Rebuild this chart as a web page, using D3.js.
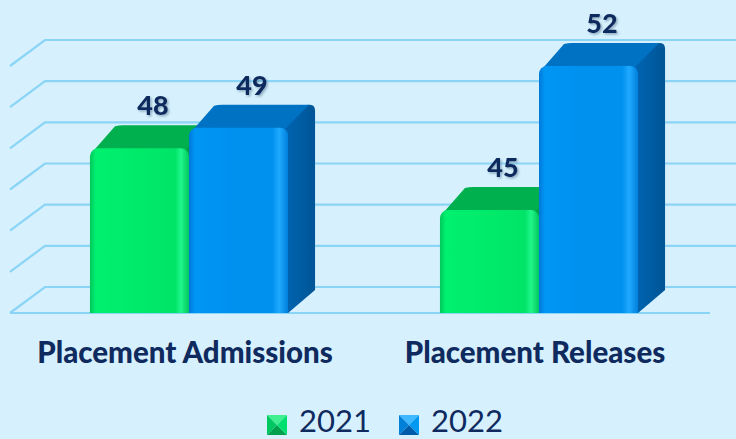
<!DOCTYPE html>
<html>
<head>
<meta charset="utf-8">
<script src="https://cdn.jsdelivr.net/npm/d3@7"></script>
<style>
  body { margin: 0; background: #d6f1fd; }
  svg { display: block; }
</style>
</head>
<body>
<svg id="chart"></svg>
<script>
let width = 736, height = 439;

// data
const categories = ["Placement Admissions", "Placement Releases"];
const seriesNames = ["2021", "2022"];
const values2021 = [48, 45];
const values2022 = [49, 52];
const tickValues = [40, 42, 44, 46, 48, 50, 52];

const series = [values2021, values2022];

let svg = d3.select("#chart")
    .attr("width", width)
    .attr("height", height);

let defs = svg.append("defs");

// front plane scales, back wall is shifted up-right
const wallDx = 35, wallDy = -26;
const barDx = 27, barDy = -23;
const barShift = 4;

let y = d3.scaleLinear().domain([40, 52]).range([313, 66]);
let x0 = d3.scaleBand().domain(categories).range([10, 710])
    .paddingInner(0.434).paddingOuter(0.217);
let x1 = d3.scaleBand().domain(seriesNames).range([0, x0.bandwidth()]);

function hGrad(id, stops) {
    let g = defs.append("linearGradient").attr("id", id)
        .attr("x1", "0%").attr("x2", "100%").attr("y1", "0%").attr("y2", "0%");
    stops.forEach(s => g.append("stop").attr("offset", s[0]).attr("stop-color", s[1]));
}
hGrad("greenFront", [["0%", "#00c85a"], ["6%", "#00f070"], ["50%", "#00ea6a"], ["86%", "#00e468"], ["92%", "#20f68a"], ["100%", "#00c85c"]]);
hGrad("blueFront", [["0%", "#0078d8"], ["6%", "#0096f4"], ["50%", "#0090ee"], ["84%", "#0090ee"], ["91%", "#20aaff"], ["100%", "#0080dc"]]);
hGrad("blueSide", [["0%", "#0066b4"], ["100%", "#005596"]]);
hGrad("greenSide", [["0%", "#00a648"], ["100%", "#008c3c"]]);

let shadow = defs.append("filter").attr("id", "lblShadow")
    .attr("x", "-20%").attr("y", "-20%").attr("width", "140%").attr("height", "140%");
shadow.append("feDropShadow").attr("dx", 1.5).attr("dy", 1.5).attr("stdDeviation", 1)
    .attr("flood-color", "#5a7a9a").attr("flood-opacity", 0.6);

const colors = {
    "2021": { front: "url(#greenFront)", top: "#00b04e", side: "url(#greenSide)" },
    "2022": { front: "url(#blueFront)", top: "#0072c4", side: "url(#blueSide)" }
};

// gridlines (left wall diagonal + back wall)
svg.append("g").attr("class", "grid")
    .selectAll("path")
    .data(tickValues)
    .enter()
    .append("path")
    .attr("d", d => "M10," + y(d) + "L" + (10 + wallDx) + "," + (y(d) + wallDy) + "L" + width + "," + (y(d) + wallDy))
    .attr("fill", "none")
    .attr("stroke", "#8ad4f6")
    .attr("stroke-width", 2.2);

// floor front edge
svg.append("line")
    .attr("x1", 10).attr("x2", 710)
    .attr("y1", y(40)).attr("y2", y(40))
    .attr("stroke", "#8ad4f6").attr("stroke-width", 2.2);

// bars
let barData = [];
categories.forEach((c, i) => {
    seriesNames.forEach((s, j) => {
        barData.push({ cat: c, name: s, value: series[j][i] });
    });
});

let bars = svg.append("g").attr("class", "bars")
    .selectAll("g")
    .data(barData)
    .enter()
    .append("g");

bars.each(function (d) {
    let g = d3.select(this);
    let xa = x0(d.cat) + x1(d.name) + barShift;
    let xb = xa + x1.bandwidth();
    let yt = y(d.value), yb = y(40);
    let c = colors[d.name];
    // side face
    g.append("path")
        .attr("d", "M" + xb + "," + yb + "L" + (xb + barDx) + "," + (yb + barDy) +
            "L" + (xb + barDx) + "," + (yt + barDy + 6) +
            "Q" + (xb + barDx) + "," + (yt + barDy) + "," + (xb + barDx - 5) + "," + (yt + barDy) +
            "L" + (xb - 6) + "," + (yt + barDy + 2) + "L" + (xb - 4) + "," + yb + "Z")
        .attr("fill", c.side);
    // top face
    g.append("path")
        .attr("d", "M" + (xa + 4) + "," + (yt + 2) +
            "L" + (xa + barDx - 2) + "," + (yt + barDy + 1) +
            "Q" + (xa + barDx + 2) + "," + (yt + barDy) + "," + (xa + barDx + 6) + "," + (yt + barDy) +
            "L" + (xb + barDx - 6) + "," + (yt + barDy) +
            "L" + (xb - 4) + "," + (yt + 2) + "Z")
        .attr("fill", c.top);
    // front face
    g.append("rect")
        .attr("x", xa).attr("y", yt)
        .attr("width", xb - xa).attr("height", yb - yt)
        .attr("rx", 8).attr("ry", 8)
        .attr("fill", c.front);
    g.append("rect")
        .attr("x", xa).attr("y", yb - 10)
        .attr("width", xb - xa).attr("height", 10)
        .attr("fill", c.front);
    // value label
    g.append("text")
        .attr("x", (xa + xb) / 2 + barDx / 2)
        .attr("y", yt + barDy - 10)
        .attr("text-anchor", "middle")
        .attr("font-family", "Lato")
        .attr("font-weight", "900")
        .attr("font-size", "27px")
        .attr("fill", "#0f2a5e")
        .attr("filter", "url(#lblShadow)")
        .text(d.value);
});

// category labels
svg.append("g")
    .selectAll("text")
    .data(categories)
    .enter()
    .append("text")
    .attr("x", d => x0(d) + x0.bandwidth() / 2)
    .attr("y", 363)
    .attr("text-anchor", "middle")
    .attr("font-family", "Lato")
    .attr("font-weight", "900")
    .attr("font-size", "29.5px")
    .attr("fill", "#0f2a5e")
    .text(d => d);

// legend
const legendX = [267, 399];
const legendShades = {
    "2021": ["#40f090", "#00c860", "#00a04c", "#00e070"],
    "2022": ["#40b8ff", "#0080d8", "#005ca8", "#0098f0"]
};
let legend = svg.append("g")
    .selectAll("g")
    .data(seriesNames)
    .enter()
    .append("g")
    .attr("transform", (d, i) => "translate(" + legendX[i] + ",415)");

legend.each(function (d) {
    let g = d3.select(this);
    let s = 20, sh = legendShades[d];
    let m = s / 2;
    // pyramid marker: top, left, bottom, right triangles
    g.append("path").attr("d", "M0,0L" + s + ",0L" + m + "," + m + "Z").attr("fill", sh[0]);
    g.append("path").attr("d", "M0,0L0," + s + "L" + m + "," + m + "Z").attr("fill", sh[1]);
    g.append("path").attr("d", "M0," + s + "L" + s + "," + s + "L" + m + "," + m + "Z").attr("fill", sh[2]);
    g.append("path").attr("d", "M" + s + ",0L" + s + "," + s + "L" + m + "," + m + "Z").attr("fill", sh[3]);
    g.append("text")
        .attr("x", 32).attr("y", 17)
        .attr("font-family", "Lato")
        .attr("font-size", "31px")
        .attr("fill", "#0f2a5e")
        .text(d);
});
</script>
</body>
</html>
